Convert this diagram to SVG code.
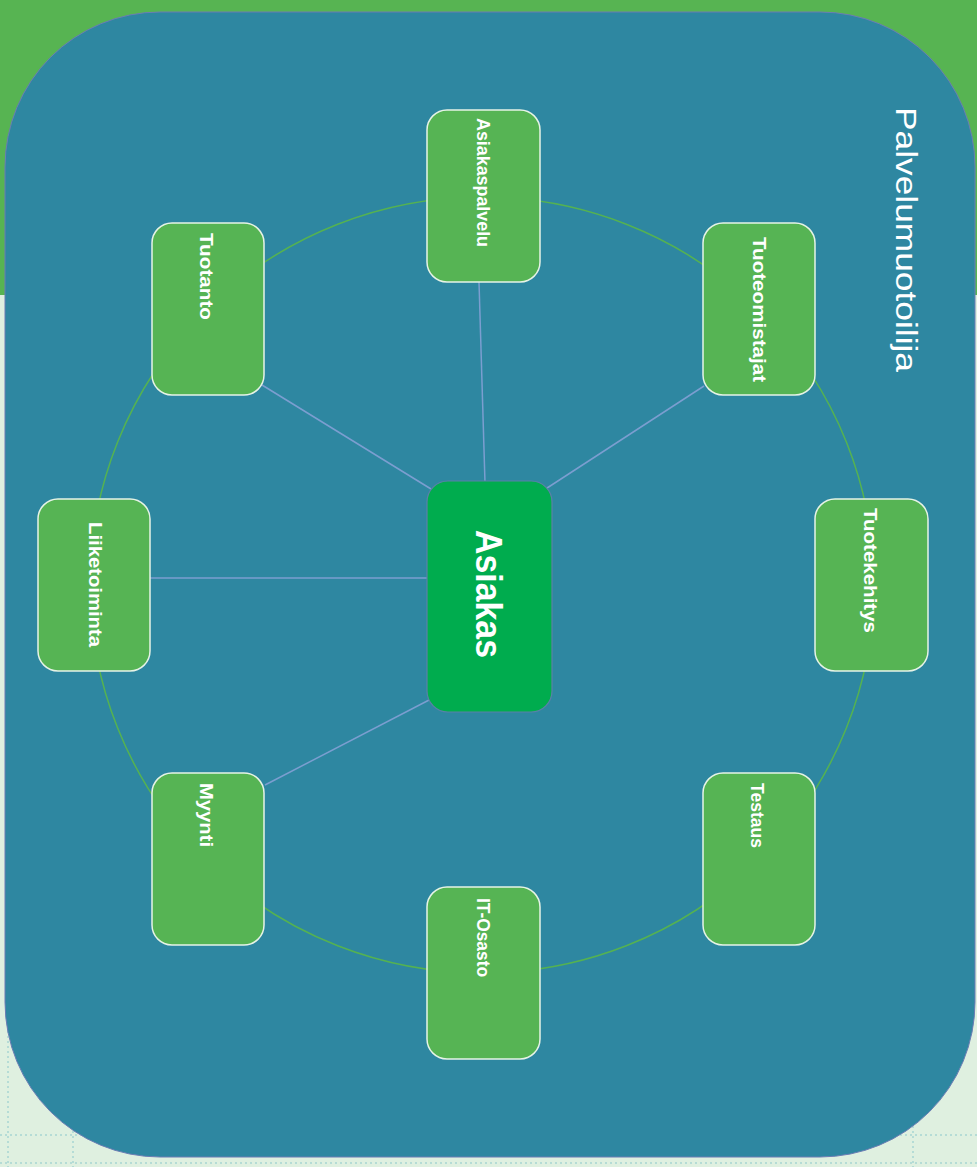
<svg xmlns="http://www.w3.org/2000/svg" width="977" height="1167" viewBox="0 0 977 1167">
<style>
.node rect{fill:#56B454;stroke:#E6F3E6;stroke-width:1.5}
.lbl{font-family:"Liberation Sans",Arial,sans-serif;font-weight:bold;font-size:18px;fill:#FFFFFF}
.conn line{stroke:#7B9ED0;stroke-width:1.5}
.grid line{stroke:#B5DCD6;stroke-width:2;stroke-dasharray:2 3}
</style>
<rect x="0" y="0" width="977" height="1167" fill="#DFF0E0"/>
<rect x="0" y="0" width="977" height="295" fill="#57B452"/>
<g class="grid">
<line x1="8" y1="296" x2="8" y2="1167"/>
<line x1="73" y1="296" x2="73" y2="1167"/>
<line x1="913" y1="296" x2="913" y2="1167"/>
<line x1="0" y1="1135" x2="977" y2="1135"/>
<line x1="0" y1="1163" x2="977" y2="1163"/>
</g>
<rect id="panel" x="5" y="12" width="970" height="1145" rx="155" ry="155" fill="#2E87A1" stroke="#6B7DB4" stroke-width="1"/>
<text x="0" y="0" transform="translate(896,107) rotate(90)" font-family="Liberation Sans,Arial,sans-serif" font-size="29" fill="#FFFFFF" textLength="265" lengthAdjust="spacingAndGlyphs">Palvelumuotoilija</text>
<ellipse cx="482" cy="585" rx="392" ry="388" fill="none" stroke="#55B251" stroke-width="1.5"/>
<g id="connectors" class="conn">
<line x1="479" y1="282" x2="485" y2="483"/>
<line x1="262" y1="385" x2="431" y2="489"/>
<line x1="704" y1="386" x2="544" y2="490"/>
<line x1="150" y1="578" x2="428" y2="578"/>
<line x1="265" y1="785" x2="431" y2="699"/>
</g>
<g id="n-asiakaspalvelu" class="node">
<rect x="427" y="110" width="113" height="172" rx="20"/>
<text class="lbl" transform="translate(476.5,118) rotate(90)" textLength="129" lengthAdjust="spacingAndGlyphs">Asiakaspalvelu</text>
</g>
<g id="n-tuotanto" class="node">
<rect x="152" y="223" width="112" height="172" rx="20"/>
<text class="lbl" transform="translate(200,233) rotate(90)" textLength="87" lengthAdjust="spacingAndGlyphs">Tuotanto</text>
</g>
<g id="n-tuoteomistajat" class="node">
<rect x="703" y="223" width="112" height="172" rx="20"/>
<text class="lbl" transform="translate(752.5,237) rotate(90)" textLength="145" lengthAdjust="spacingAndGlyphs">Tuoteomistajat</text>
</g>
<g id="n-liiketoiminta" class="node">
<rect x="38" y="499" width="112" height="172" rx="20"/>
<text class="lbl" transform="translate(89,522) rotate(90)" textLength="125" lengthAdjust="spacingAndGlyphs">Liiketoiminta</text>
</g>
<g id="n-tuotekehitys" class="node">
<rect x="815" y="499" width="113" height="172" rx="20"/>
<text class="lbl" transform="translate(864,508) rotate(90)" textLength="125" lengthAdjust="spacingAndGlyphs">Tuotekehitys</text>
</g>
<g id="n-myynti" class="node">
<rect x="152" y="773" width="112" height="172" rx="20"/>
<text class="lbl" transform="translate(200,783) rotate(90)" textLength="64" lengthAdjust="spacingAndGlyphs">Myynti</text>
</g>
<g id="n-testaus" class="node">
<rect x="703" y="773" width="112" height="172" rx="20"/>
<text class="lbl" transform="translate(751,783) rotate(90)" textLength="65" lengthAdjust="spacingAndGlyphs">Testaus</text>
</g>
<g id="n-itosasto" class="node">
<rect x="427" y="887" width="113" height="172" rx="20"/>
<text class="lbl" transform="translate(476.5,898) rotate(90)" textLength="79" lengthAdjust="spacingAndGlyphs">IT-Osasto</text>
</g>
<g id="n-asiakas">
<rect x="427" y="481" width="125" height="231" rx="21" fill="#00AC4E" stroke="#5B80A8" stroke-width="1.2"/>
<text transform="translate(476,530) rotate(90)" font-family="Liberation Sans,Arial,sans-serif" font-weight="bold" font-size="37" fill="#FFFFFF" textLength="128" lengthAdjust="spacingAndGlyphs">Asiakas</text>
</g>
</svg>
